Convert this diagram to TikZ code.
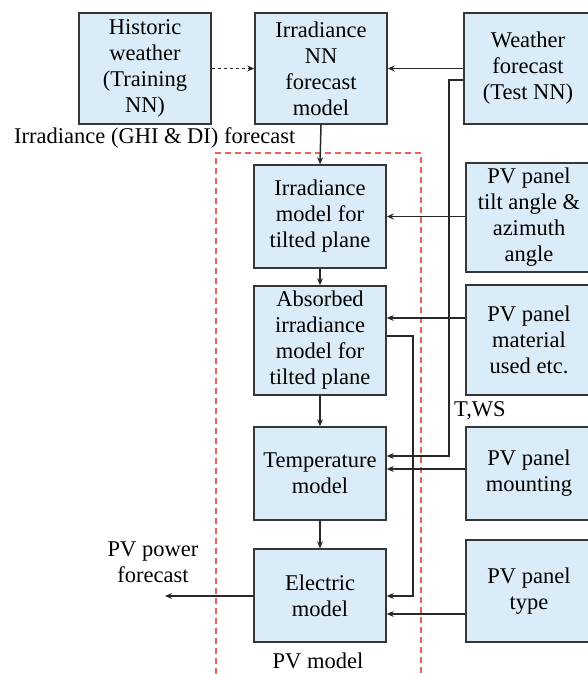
\documentclass[tikz,border=0pt]{standalone}
\usepackage{fontspec}
\setmainfont{Liberation Serif}
\usetikzlibrary{arrows.meta}
\definecolor{boxfill}{RGB}{218,236,248}
\definecolor{boxline}{RGB}{55,55,55}
\definecolor{connline}{RGB}{40,40,40}
\definecolor{pvred}{RGB}{236,98,88}
\tikzset{
  blk/.style={draw=boxline, line width=1.5pt, fill=boxfill, inner sep=0pt, align=center,
    font=\fontsize{22.5}{26}\selectfont, minimum width=132pt},
  conn/.style={draw=connline, line width=1.5pt, -{Stealth[length=7pt,width=6pt]}},
  lbl/.style={inner sep=0pt, align=center, font=\fontsize{22.5}{26}\selectfont},
}
\begin{document}
\begin{tikzpicture}[x=1pt,y=-1pt]
\useasboundingbox (0,0) rectangle (587,674);
% red PV model frame
\draw[pvred, line width=1.4pt, dash pattern=on 6pt off 4pt] (216,674) -- (216,153) -- (421,153) -- (421,674);
% boxes
\node[blk, minimum height=111pt] (hist) at (145,68.5) {Historic\\weather\\(Training\\NN)};
\node[blk, minimum height=111pt] (nn) at (321,68.5) {Irradiance\\NN\\forecast\\model};
\node[blk, minimum height=111pt, minimum width=128pt] (wf) at (528,68.5) {Weather\\forecast\\(Test NN)};
\node[blk, minimum height=103pt] (irr) at (320,216.5) {Irradiance\\model for\\tilted plane};
\node[blk, minimum height=109pt] (abs) at (320,340.5) {Absorbed\\irradiance\\model for\\tilted plane};
\node[blk, minimum height=93pt] (temp) at (320,473.5) {Temperature\\model};
\node[blk, minimum height=93pt] (elec) at (320,595.5) {Electric\\model};
\node[blk, minimum height=109pt, minimum width=126pt] (tilt) at (529,217.5) {PV panel\\tilt angle \&\\azimuth\\angle};
\node[blk, minimum height=110pt, minimum width=126pt] (mat) at (529,340) {PV panel\\material\\used etc.};
\node[blk, minimum height=93pt, minimum width=126pt] (mount) at (529,473.5) {PV panel\\mounting};
\node[blk, minimum height=102pt, minimum width=126pt] (type) at (529,591) {PV panel\\type};
% labels
\node[lbl, anchor=west] (glbl) at (14,138) {Irradiance (GHI \& DI) forecast};
\node[lbl, anchor=west] (twslbl) at (454,411) {T,WS};
\node[lbl] (pvlbl) at (318,661) {PV model};
\node[lbl] (outlbl) at (153,562) {PV power\\forecast};
% helper coordinates
\coordinate (w1) at (449,80);
\coordinate (w2) at (449,456);
\coordinate (m1) at (0,318);
\coordinate (a1) at (413,336);
\coordinate (a2) at (413,596);
\coordinate (t1) at (0,469);
\coordinate (e1) at (0,614);
\coordinate (out) at (165,596);
% connectors
\draw[conn, dashed] (hist.east) -- (nn.west);
\draw[conn] (wf.west) -- (nn.east);
\draw[conn] (wf.west |- w1) -- (w1) -- (w2) -- (temp.east |- w2);
\draw[conn] (nn.south) -- (irr.north);
\draw[conn] (irr.south) -- (abs.north);
\draw[conn] (abs.south) -- (temp.north);
\draw[conn] (temp.south) -- (elec.north);
\draw[conn] (tilt.west |- irr.east) -- (irr.east);
\draw[conn] (mat.west |- m1) -- (abs.east |- m1);
\draw[conn] (abs.east |- a1) -- (a1) -- (a2) -- (elec.east |- a2);
\draw[conn] (mount.west |- t1) -- (temp.east |- t1);
\draw[conn] (type.west |- e1) -- (elec.east |- e1);
\draw[conn] (elec.west |- out) -- (out);
\end{tikzpicture}
\end{document}
